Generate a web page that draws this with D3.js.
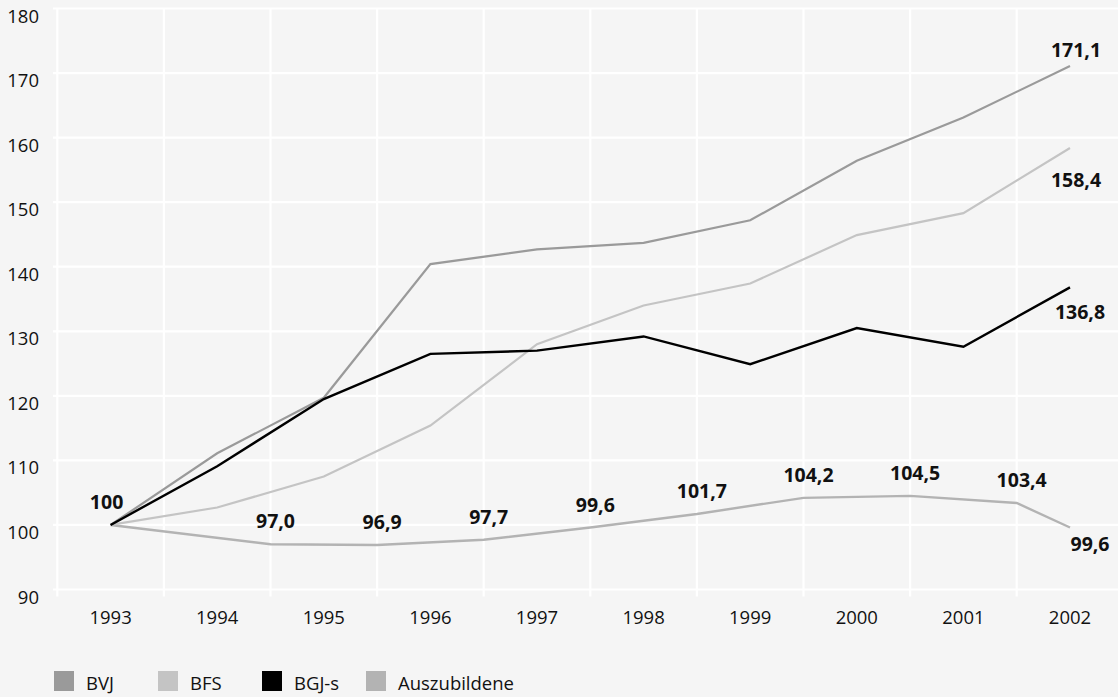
<!DOCTYPE html>
<html>
<head>
<meta charset="utf-8">
<script src="https://cdn.jsdelivr.net/npm/d3@7"></script>
<style>
  html, body { margin: 0; padding: 0; background: #f5f5f5; }
  svg { display: block; }
  text { font-family: "Open Sans", "Noto Sans", sans-serif; fill: #111; }
</style>
</head>
<body>
<svg id="chart" width="1118" height="697"></svg>
<script>
// Index values, 1993 = 100
const years = [1993, 1994, 1995, 1996, 1997, 1998, 1999, 2000, 2001, 2002];
const yTicks = [90, 100, 110, 120, 130, 140, 150, 160, 170, 180];

const bvj   = [100, 111.1, 119.7, 140.4, 142.7, 143.7, 147.2, 156.4, 163.1, 171.1];
const bfs   = [100, 102.7, 107.5, 115.4, 128.0, 134.0, 137.4, 144.9, 148.3, 158.4];
const bgjs  = [100, 109.1, 119.5, 126.5, 127.0, 129.2, 124.9, 130.5, 127.6, 136.8];
const azubi = [100, 97.0, 96.9, 97.7, 99.6, 101.7, 104.2, 104.5, 103.4, 99.6];

const seriesNames  = ["BVJ", "BFS", "BGJ-s", "Auszubildene"];
const seriesColors = ["#9a9a9a", "#c4c4c4", "#000000", "#b3b3b3"];

const W = 1118, H = 697;
const svg = d3.select("#chart");

const x = d3.scaleBand().domain(years).range([57.3, 1123.3]).padding(0);
const y = d3.scaleLinear().domain([90, 180]).range([589.5, 8.5]);
const bw = x.bandwidth();

// base year shown as integer, all other values with one decimal and a comma
const fmt = v => (v === 100 ? "100" : d3.format(".1f")(v).replace(".", ","));

// grid
const grid = svg.append("g");
grid.selectAll("line.h").data(yTicks).join("line")
  .attr("x1", 53).attr("x2", W)
  .attr("y1", d => y(d)).attr("y2", d => y(d))
  .attr("stroke", "#fff").attr("stroke-width", 2.2);
grid.selectAll("line.v").data(years).join("line")
  .attr("x1", d => x(d)).attr("x2", d => x(d))
  .attr("y1", y(180)).attr("y2", y(90) + 7)
  .attr("stroke", "#fff").attr("stroke-width", 2.2);

// y tick labels
svg.append("g").selectAll("text").data(yTicks).join("text")
  .attr("x", 39).attr("y", d => y(d) + 14)
  .attr("text-anchor", "end")
  .style("font-size", "18.5px")
  .text(d => d);

// x tick labels
svg.append("g").selectAll("text").data(years).join("text")
  .attr("x", d => x(d) + bw / 2).attr("y", 624)
  .attr("text-anchor", "middle")
  .style("font-size", "18.5px")
  .text(d => d);

// lines
const line = d3.line().x(d => d.x).y(d => y(d.v));
const mid = (yr) => x(yr) + bw / 2;

const ptsCenter = vals => vals.map((v, i) => ({ x: mid(years[i]), v }));
// apprentice counts are taken at year end: inner years sit on the band edge
const ptsAzubi = azubi.map((v, i) => ({
  x: (i === 0 || i === years.length - 1) ? mid(years[i]) : x(years[i]) + bw,
  v
}));

const lines = [
  { pts: ptsAzubi, color: seriesColors[3], w: 2.4 },
  { pts: ptsCenter(bfs), color: seriesColors[1], w: 2.2 },
  { pts: ptsCenter(bvj), color: seriesColors[0], w: 2.2 },
  { pts: ptsCenter(bgjs), color: seriesColors[2], w: 2.4 }
];
svg.append("g").selectAll("path").data(lines).join("path")
  .attr("d", d => line(d.pts))
  .attr("fill", "none")
  .attr("stroke", d => d.color)
  .attr("stroke-width", d => d.w)
  .attr("stroke-linejoin", "miter");

// value labels
const labels = svg.append("g").style("font-size", "19.5px").style("font-weight", "700");
const last = years.length - 1;

labels.selectAll("text.az").data(ptsAzubi).join("text")
  .attr("text-anchor", "middle")
  .attr("x", (d, i) => i === last ? d.x + 20 : (i === 0 ? d.x - 4 : d.x + 5))
  .attr("y", (d, i) => i === last ? y(d.v) + 23 : y(d.v) - 16)
  .text(d => fmt(d.v));

const endLabels = [
  { v: bvj[last], dx: 6, dy: -9 },
  { v: bfs[last], dx: 6, dy: 39 },
  { v: bgjs[last], dx: 10, dy: 32 }
];
labels.selectAll("text.end").data(endLabels).join("text")
  .attr("text-anchor", "middle")
  .attr("x", d => mid(years[last]) + d.dx)
  .attr("y", d => y(d.v) + d.dy)
  .text(d => fmt(d.v));

// legend
const legend = svg.append("g");
const lg = legend.selectAll("g").data(seriesNames).join("g")
  .attr("transform", (d, i) => `translate(${54 + i * 104},671)`);
lg.append("rect").attr("width", 20).attr("height", 20)
  .attr("fill", (d, i) => seriesColors[i]);
lg.append("text").attr("x", 32).attr("y", 19)
  .style("font-size", "18.5px")
  .text(d => d);
</script>
</body>
</html>
